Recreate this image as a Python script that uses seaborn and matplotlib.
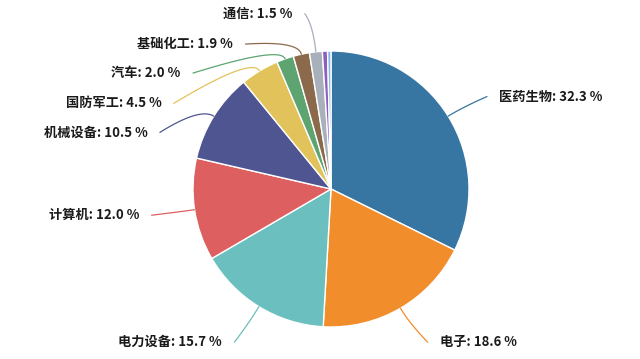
import numpy as np
import matplotlib.pyplot as plt
import seaborn as sns

# industry share of holdings
industries = ["医药生物", "电子", "电力设备", "计算机", "机械设备", "国防军工",
              "汽车", "基础化工", "通信", "其他1", "其他2"]
shares = [32.3, 18.6, 15.7, 12.0, 10.5, 4.5, 2.0, 1.9, 1.5, 0.6, 0.4]
show_label = [True] * 9 + [False, False]
colors = ["#3775a2", "#f28d2c", "#6bbfbe", "#dd5f5f", "#4f5590", "#e2c25b",
          "#5ea470", "#8b6a4c", "#a7b0bb", "#8e5fbd", "#84b8e6"]

# where each leader line ends (data units, pie radius = 1) and text side
line_end = [(1.13, 0.67), (0.70, -1.11), (-0.70, -1.11), (-1.30, -0.19),
            (-1.24, 0.41), (-1.14, 0.62), (-1.00, 0.84), (-0.62, 1.05),
            (-0.19, 1.27), None, None]
label_ha = ["left", "left", "right", "right", "right", "right", "right",
            "right", "right", None, None]
bend = [1.12, 1.12, 1.15, 1.05, 1.12, 1.12, 1.1, 1.1, 1.2, 1, 1]

sns.set_theme(style="white")
plt.rcParams['font.family'] = ['Noto Sans CJK SC', 'DejaVu Sans']

fig = plt.figure(figsize=(6.4, 3.59), dpi=100)
cx, cy, r = 331, 189, 138
ax = fig.add_axes([(cx - r) / 640, (359 - cy - r) / 359, 2 * r / 640, 2 * r / 359])

wedges, _ = ax.pie(shares, colors=colors, startangle=90, counterclock=False,
                   wedgeprops=dict(edgecolor="white", linewidth=1.0), radius=1.0)
ax.set_xlim(-1, 1)
ax.set_ylim(-1, 1)
ax.set_aspect("auto")
ax.axis("off")

t = np.linspace(0, 1, 40)[:, None]
for w, name, v, show, end, ha, col, k in zip(wedges, industries, shares, show_label,
                                             line_end, label_ha, colors, bend):
    if not show:
        continue
    mid = np.deg2rad((w.theta1 + w.theta2) / 2)
    p0 = np.array([np.cos(mid), np.sin(mid)])
    p1 = p0 * k
    p2 = np.array(end)
    curve = (1 - t) ** 2 * p0 + 2 * (1 - t) * t * p1 + t ** 2 * p2
    ax.plot(curve[:, 0], curve[:, 1], color=col, lw=0.9, clip_on=False)
    gap = 0.09 if ha == "left" else -0.09
    ax.text(end[0] + gap, end[1], f"{name}: {v:.1f} %", ha=ha, va="center",
            fontsize=9.5, fontweight="bold", color="#1a1a1a", clip_on=False)

fig.savefig("out.png", dpi=100)
